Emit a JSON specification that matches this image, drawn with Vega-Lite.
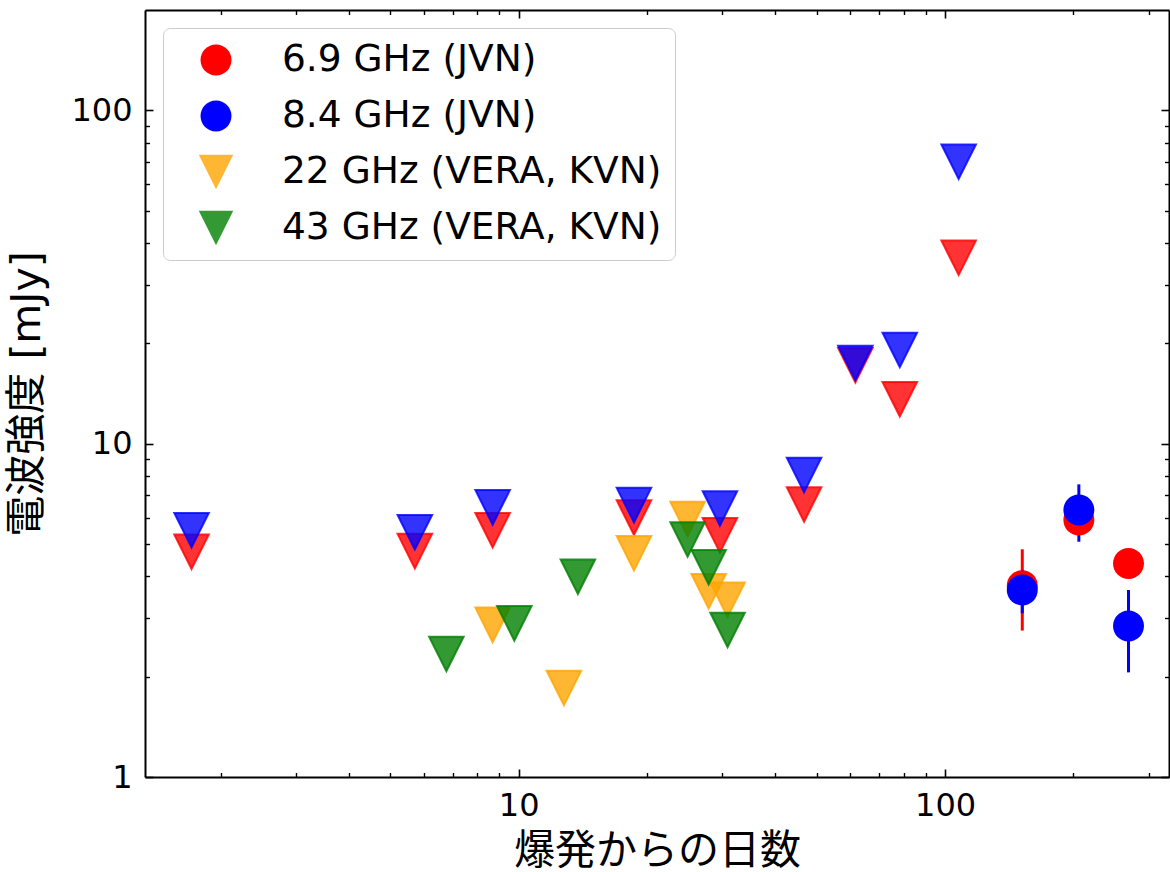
{
  "$schema": "https://vega.github.io/schema/vega-lite/v6.json",
  "width": 1024,
  "height": 767,
  "autosize": "none",
  "padding": {"left": 145, "top": 10, "right": 1, "bottom": 95},
  "background": "white",
  "config": {"view": {"stroke": null}, "axis": {"grid": false}},
  "data": {"values": [
    {"series": "6.9 GHz (JVN)", "kind": "limit", "day": 1.71, "flux": 4.74},
    {"series": "6.9 GHz (JVN)", "kind": "limit", "day": 5.71, "flux": 4.76},
    {"series": "6.9 GHz (JVN)", "kind": "limit", "day": 8.69, "flux": 5.5},
    {"series": "6.9 GHz (JVN)", "kind": "limit", "day": 18.64, "flux": 6.0},
    {"series": "6.9 GHz (JVN)", "kind": "limit", "day": 29.65, "flux": 5.31},
    {"series": "6.9 GHz (JVN)", "kind": "limit", "day": 46.7, "flux": 6.57},
    {"series": "6.9 GHz (JVN)", "kind": "limit", "day": 61.6, "flux": 17.2},
    {"series": "6.9 GHz (JVN)", "kind": "limit", "day": 78.3, "flux": 13.6},
    {"series": "6.9 GHz (JVN)", "kind": "limit", "day": 107.6, "flux": 36.1},
    {"series": "8.4 GHz (JVN)", "kind": "limit", "day": 1.71, "flux": 5.5},
    {"series": "8.4 GHz (JVN)", "kind": "limit", "day": 5.71, "flux": 5.42},
    {"series": "8.4 GHz (JVN)", "kind": "limit", "day": 8.69, "flux": 6.44},
    {"series": "8.4 GHz (JVN)", "kind": "limit", "day": 18.64, "flux": 6.54},
    {"series": "8.4 GHz (JVN)", "kind": "limit", "day": 29.65, "flux": 6.39},
    {"series": "8.4 GHz (JVN)", "kind": "limit", "day": 46.7, "flux": 8.05},
    {"series": "8.4 GHz (JVN)", "kind": "limit", "day": 61.6, "flux": 17.46},
    {"series": "8.4 GHz (JVN)", "kind": "limit", "day": 78.3, "flux": 19.1},
    {"series": "8.4 GHz (JVN)", "kind": "limit", "day": 107.6, "flux": 70.1},
    {"series": "22 GHz (VERA, KVN)", "kind": "limit", "day": 8.69, "flux": 2.86},
    {"series": "22 GHz (VERA, KVN)", "kind": "limit", "day": 12.77, "flux": 1.85},
    {"series": "22 GHz (VERA, KVN)", "kind": "limit", "day": 18.64, "flux": 4.69},
    {"series": "22 GHz (VERA, KVN)", "kind": "limit", "day": 24.9, "flux": 5.94},
    {"series": "22 GHz (VERA, KVN)", "kind": "limit", "day": 27.9, "flux": 3.61},
    {"series": "22 GHz (VERA, KVN)", "kind": "limit", "day": 30.9, "flux": 3.4},
    {"series": "43 GHz (VERA, KVN)", "kind": "limit", "day": 6.77, "flux": 2.34},
    {"series": "43 GHz (VERA, KVN)", "kind": "limit", "day": 9.77, "flux": 2.89},
    {"series": "43 GHz (VERA, KVN)", "kind": "limit", "day": 13.77, "flux": 3.99},
    {"series": "43 GHz (VERA, KVN)", "kind": "limit", "day": 24.9, "flux": 5.16},
    {"series": "43 GHz (VERA, KVN)", "kind": "limit", "day": 27.9, "flux": 4.26},
    {"series": "43 GHz (VERA, KVN)", "kind": "limit", "day": 30.9, "flux": 2.76},
    {"series": "6.9 GHz (JVN)", "kind": "det", "day": 151.7, "flux": 3.75, "lo": 2.75, "hi": 4.82},
    {"series": "6.9 GHz (JVN)", "kind": "det", "day": 205.9, "flux": 5.9, "lo": 5.4, "hi": 6.4},
    {"series": "6.9 GHz (JVN)", "kind": "det", "day": 269.2, "flux": 4.37, "lo": 4.0, "hi": 4.75},
    {"series": "8.4 GHz (JVN)", "kind": "det", "day": 151.7, "flux": 3.64, "lo": 3.1, "hi": 4.18},
    {"series": "8.4 GHz (JVN)", "kind": "det", "day": 205.9, "flux": 6.32, "lo": 5.08, "hi": 7.55},
    {"series": "8.4 GHz (JVN)", "kind": "det", "day": 269.2, "flux": 2.84, "lo": 2.06, "hi": 3.64}
  ]},
  "resolve": {"axis": {"x": "independent", "y": "independent"}},
  "layer": [
    {
      "transform": [{"filter": "datum.kind === 'det'"}],
      "mark": {"type": "rule", "strokeWidth": 3, "stroke": {"expr": "scale('color', datum.series)"}},
      "encoding": {
        "x": {"field": "day", "type": "quantitative",
          "scale": {"type": "log", "domain": [1.33, 335], "nice": false},
          "axis": {"orient": "bottom", "values": [10, 100], "format": "~g", "tickSize": -8, "tickWidth": 1.6, "tickColor": "black",
            "domain": true, "domainColor": "black", "domainWidth": 2,
            "labelFont": "DejaVu Sans", "labelFontSize": 32, "labelColor": "black", "labelPadding": 21, "labelFlush": false, "labelOverlap": false,
            "title": "爆発からの日数", "titleFont": "DejaVu Sans, Noto Sans CJK JP", "titleFontSize": 41, "titleFontWeight": "normal", "titleColor": "black", "titlePadding": 10}},
        "y": {"field": "lo", "type": "quantitative",
          "scale": {"type": "log", "domain": [1, 200], "nice": false},
          "axis": {"orient": "left", "values": [1, 10, 100], "format": "~g", "tickSize": -8, "tickWidth": 1.6, "tickColor": "black",
            "domain": true, "domainColor": "black", "domainWidth": 2,
            "labelFont": "DejaVu Sans", "labelFontSize": 32, "labelColor": "black", "labelPadding": 21, "labelFlush": false, "labelOverlap": false,
            "title": "電波強度 [mJy]", "titleFont": "DejaVu Sans, Noto Sans CJK JP", "titleFontSize": 41, "titleFontWeight": "normal", "titleColor": "black", "titlePadding": 22}},
        "y2": {"field": "hi"}
      }
    },
    {
      "transform": [{"filter": "datum.kind === 'det'"}],
      "mark": {"type": "point", "filled": true, "size": 1296, "strokeWidth": 0},
      "encoding": {
        "x": {"field": "day", "type": "quantitative",
          "scale": {"type": "log", "domain": [1.33, 335], "nice": false},
          "axis": {"orient": "bottom", "values": [2, 3, 4, 5, 6, 7, 8, 9, 20, 30, 40, 50, 60, 70, 80, 90, 200, 300], "tickSize": -4.5, "tickWidth": 1.4, "tickColor": "black", "domain": false, "labels": false, "title": null}},
        "y": {"field": "flux", "type": "quantitative",
          "scale": {"type": "log", "domain": [1, 200], "nice": false},
          "axis": {"orient": "left", "values": [2, 3, 4, 5, 6, 7, 8, 9, 20, 30, 40, 50, 60, 70, 80, 90], "tickSize": -4.5, "tickWidth": 1.4, "tickColor": "black", "domain": false, "labels": false, "title": null}},
        "shape": {"field": "series", "type": "nominal",
          "scale": {"domain": ["6.9 GHz (JVN)", "8.4 GHz (JVN)", "22 GHz (VERA, KVN)", "43 GHz (VERA, KVN)"],
            "range": ["M0.86,0A0.86,0.86,0,1,1,-0.86,0A0.86,0.86,0,1,1,0.86,0Z", "M0.86,0A0.86,0.86,0,1,1,-0.86,0A0.86,0.86,0,1,1,0.86,0Z", "M-0.96,-0.96L0.96,-0.96L0,0.96Z", "M-0.96,-0.96L0.96,-0.96L0,0.96Z"]}},
        "opacity": {"field": "series", "type": "nominal",
          "scale": {"type": "ordinal", "domain": ["6.9 GHz (JVN)", "8.4 GHz (JVN)", "22 GHz (VERA, KVN)", "43 GHz (VERA, KVN)"], "range": [1, 1, 0.8, 0.8]}},
        "color": {"field": "series", "type": "nominal",
          "scale": {"domain": ["6.9 GHz (JVN)", "8.4 GHz (JVN)", "22 GHz (VERA, KVN)", "43 GHz (VERA, KVN)"], "range": ["#ff0000", "#0000ff", "#ffa500", "#008000"]},
          "legend": {"title": null, "orient": "none", "legendX": 18, "legendY": 18,
            "padding": 13, "rowPadding": 18, "symbolSize": 1296, "symbolOffset": 21, "labelOffset": 47,
            "labelFont": "DejaVu Sans", "labelFontSize": 37.5, "labelColor": "black", "labelLimit": 700,
            "fillColor": "rgba(255,255,255,0.8)", "strokeColor": "#cccccc", "cornerRadius": 7}}
      }
    },
    {
      "transform": [{"filter": "datum.kind === 'limit' && (datum.series === '6.9 GHz (JVN)' || datum.series === '8.4 GHz (JVN)')"}],
      "mark": {"type": "point", "shape": "M-0.96,-0.96L0.96,-0.96L0,0.96Z", "filled": true, "size": 1296, "opacity": 1, "fillOpacity": 0.8, "strokeOpacity": 0.8, "strokeWidth": 2, "stroke": {"expr": "scale('color', datum.series)"}},
      "encoding": {
        "x": {"field": "day", "type": "quantitative",
          "scale": {"type": "log", "domain": [1.33, 335], "nice": false},
          "axis": {"orient": "top", "values": [10, 100], "tickSize": -8, "tickWidth": 1.6, "tickColor": "black", "domain": true, "domainColor": "black", "domainWidth": 2, "labels": false, "title": null}},
        "y": {"field": "flux", "type": "quantitative",
          "scale": {"type": "log", "domain": [1, 200], "nice": false},
          "axis": {"orient": "right", "values": [1, 10, 100], "tickSize": -8, "tickWidth": 1.6, "tickColor": "black", "domain": true, "domainColor": "black", "domainWidth": 2, "labels": false, "title": null}},
        "color": {"field": "series", "type": "nominal",
          "scale": {"domain": ["6.9 GHz (JVN)", "8.4 GHz (JVN)", "22 GHz (VERA, KVN)", "43 GHz (VERA, KVN)"], "range": ["#ff0000", "#0000ff", "#ffa500", "#008000"]}}
      }
    },
    {
      "transform": [{"filter": "datum.kind === 'limit' && (datum.series === '22 GHz (VERA, KVN)' || datum.series === '43 GHz (VERA, KVN)')"}],
      "mark": {"type": "point", "shape": "M-0.96,-0.96L0.96,-0.96L0,0.96Z", "filled": true, "size": 1296, "opacity": 1, "fillOpacity": 0.8, "strokeOpacity": 0.8, "strokeWidth": 2, "stroke": {"expr": "scale('color', datum.series)"}},
      "encoding": {
        "x": {"field": "day", "type": "quantitative",
          "scale": {"type": "log", "domain": [1.33, 335], "nice": false},
          "axis": {"orient": "top", "values": [2, 3, 4, 5, 6, 7, 8, 9, 20, 30, 40, 50, 60, 70, 80, 90, 200, 300], "tickSize": -4.5, "tickWidth": 1.4, "tickColor": "black", "domain": false, "labels": false, "title": null}},
        "y": {"field": "flux", "type": "quantitative",
          "scale": {"type": "log", "domain": [1, 200], "nice": false},
          "axis": {"orient": "right", "values": [2, 3, 4, 5, 6, 7, 8, 9, 20, 30, 40, 50, 60, 70, 80, 90], "tickSize": -4.5, "tickWidth": 1.4, "tickColor": "black", "domain": false, "labels": false, "title": null}},
        "color": {"field": "series", "type": "nominal",
          "scale": {"domain": ["6.9 GHz (JVN)", "8.4 GHz (JVN)", "22 GHz (VERA, KVN)", "43 GHz (VERA, KVN)"], "range": ["#ff0000", "#0000ff", "#ffa500", "#008000"]}}
      }
    }
  ]
}
